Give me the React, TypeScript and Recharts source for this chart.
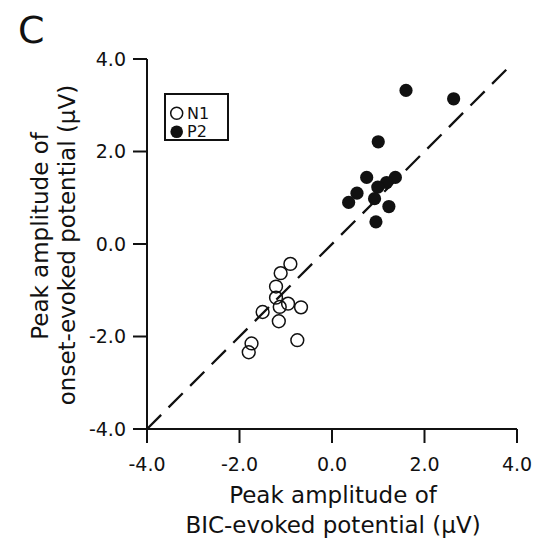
import React from 'react';
import {
  ScatterChart,
  Scatter,
  XAxis,
  YAxis,
  ReferenceLine,
  Label
} from 'recharts';

// values (µV)
const n1X = [-0.90, -1.11, -1.21, -1.21, -0.95, -1.13, -0.67, -1.50, -1.15, -0.75, -1.74, -1.80];
const n1Y = [-0.43, -0.63, -0.92, -1.16, -1.29, -1.36, -1.37, -1.47, -1.67, -2.08, -2.15, -2.34];
const p2X = [1.60, 2.63, 1.00, 0.75, 1.37, 1.18, 0.99, 0.54, 0.36, 0.92, 1.23, 0.95];
const p2Y = [3.32, 3.14, 2.21, 1.44, 1.44, 1.33, 1.23, 1.10, 0.90, 0.98, 0.81, 0.48];
const axisTicks = [-4, -2, 0, 2, 4];
const unityLine = [{ x: -4, y: -4 }, { x: 3.85, y: 3.85 }];

const n1Data = n1X.map((x, i) => ({ x, y: n1Y[i] }));
const p2Data = p2X.map((x, i) => ({ x, y: p2Y[i] }));

const FONT = '"DejaVu Sans", Arial, sans-serif';
const INK = '#111';

const OpenDot = (props: any) => (
  <circle cx={props.cx} cy={props.cy} r={6.4} fill="none" stroke={INK} strokeWidth={1.5} />
);
const FilledDot = (props: any) => (
  <circle cx={props.cx} cy={props.cy} r={6.6} fill={INK} stroke="none" />
);

const XTitle = () => (
  <g fontFamily={FONT} fontSize={23} fill={INK} textAnchor="middle">
    <text x={333} y={503}>Peak amplitude of</text>
    <text x={333} y={533}>BIC-evoked potential (µV)</text>
  </g>
);

const YTitle = () => (
  <g fontFamily={FONT} fontSize={23} fill={INK} textAnchor="middle">
    <text x={48} y={236} transform="rotate(-90, 48, 236)">Peak amplitude of</text>
    <text x={75} y={245} transform="rotate(-90, 75, 245)">onset-evoked potential (µV)</text>
    <text x={18} y={43} fontSize={38} textAnchor="start">C</text>
  </g>
);

const LegendBox = () => (
  <svg
    width={65}
    height={48}
    style={{ position: 'absolute', left: 164, top: 93 }}
  >
    <rect x={1} y={1} width={63} height={46} fill="#fff" stroke={INK} strokeWidth={2} />
    <circle cx={12.7} cy={20.3} r={6} fill="none" stroke={INK} strokeWidth={1.5} />
    <circle cx={12.7} cy={38.7} r={6.3} fill={INK} />
    <text x={23} y={25.5} fontFamily={FONT} fontSize={16} fill={INK}>N1</text>
    <text x={23} y={44} fontFamily={FONT} fontSize={16} fill={INK}>P2</text>
  </svg>
);

const App: React.FC = () => {
  const tickStyle = { fontSize: 19, fill: INK, fontFamily: FONT };
  const fmt = (v: number) => v.toFixed(1);

  return (
    <div style={{ position: 'absolute', left: 0, top: 0, width: 535, height: 540, background: '#fff' }}>
      <ScatterChart
        width={535}
        height={540}
        margin={{ top: 59, right: 18, bottom: 71, left: 87 }}
      >
        <XAxis
          type="number"
          dataKey="x"
          domain={[-4, 4]}
          ticks={axisTicks}
          tickFormatter={fmt}
          tick={tickStyle}
          tickSize={14}
          tickMargin={15}
          height={40}
          stroke={INK}
          strokeWidth={2}
          allowDataOverflow
        >
          <Label content={<XTitle />} />
        </XAxis>
        <YAxis
          type="number"
          dataKey="y"
          domain={[-4, 4]}
          ticks={axisTicks}
          tickFormatter={fmt}
          tick={tickStyle}
          tickSize={14}
          tickMargin={7}
          width={60}
          stroke={INK}
          strokeWidth={2}
          allowDataOverflow
        >
          <Label content={<YTitle />} />
        </YAxis>
        <ReferenceLine
          segment={unityLine}
          stroke={INK}
          strokeWidth={2.3}
          strokeDasharray="20 10.5"
          ifOverflow="visible"
        />
        <Scatter name="N1" data={n1Data} shape={OpenDot} isAnimationActive={false} />
        <Scatter name="P2" data={p2Data} shape={FilledDot} isAnimationActive={false} />
      </ScatterChart>
      <LegendBox />
    </div>
  );
};

export default App;
